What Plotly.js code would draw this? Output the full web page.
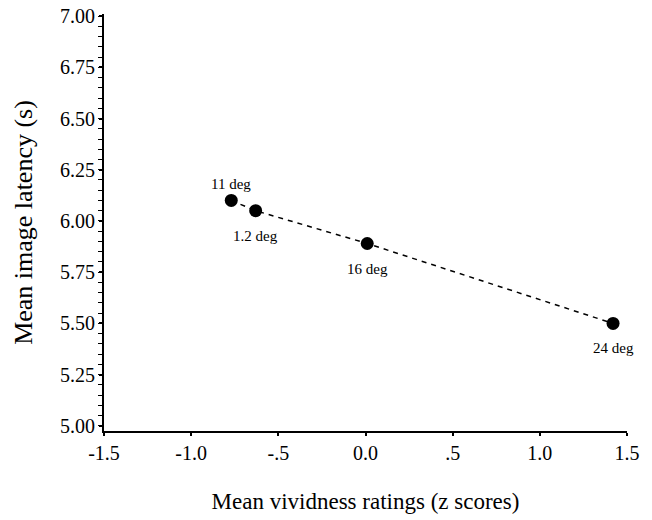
<!DOCTYPE html>
<html>
<head>
<meta charset="utf-8">
<script src="https://cdn.plot.ly/plotly-3.0.1.min.js"></script>
<style>
  html, body { margin: 0; padding: 0; background: #fff; }
  #chart { width: 652px; height: 520px; }
</style>
</head>
<body>
<div id="chart"></div>
<script>
// Data
const conditionLabels = ["11 deg", "1.2 deg", "16 deg", "24 deg"];
const vividnessZ = [-0.77, -0.63, 0.01, 1.42];
const imageLatency = [6.10, 6.05, 5.89, 5.50];

const xTickValues = [-1.5, -1.0, -0.5, 0.0, 0.5, 1.0, 1.5];
const xTickLabels = ["-1.5", "-1.0", "-.5", "0.0", ".5", "1.0", "1.5"];
const yTickValues = [5.00, 5.25, 5.50, 5.75, 6.00, 6.25, 6.50, 6.75, 7.00];
const yTickLabels = ["5.00", "5.25", "5.50", "5.75", "6.00", "6.25", "6.50", "6.75", "7.00"];

const FONT = "Liberation Serif";

const trace = {
  x: vividnessZ,
  y: imageLatency,
  type: "scatter",
  mode: "lines+markers",
  line: { color: "#000", width: 1.5, dash: "5px,5px" },
  marker: { color: "#000", size: 13 },
  hoverinfo: "x+y",
  showlegend: false
};

const annotations = conditionLabels.map((lab, i) => ({
  x: vividnessZ[i],
  y: imageLatency[i],
  xref: "x",
  yref: "y",
  text: lab,
  showarrow: false,
  yshift: i === 0 ? 16 : -25,
  font: { family: FONT, size: 15, color: "#000" }
}));

const layout = {
  width: 652,
  height: 520,
  margin: { l: 104, r: 25, t: 14, b: 89 },
  paper_bgcolor: "#fff",
  plot_bgcolor: "#fff",
  font: { family: FONT, color: "#000" },
  showlegend: false,
  xaxis: {
    range: [-1.5, 1.5],
    tickvals: xTickValues,
    ticktext: xTickLabels,
    ticks: "outside",
    ticklen: 3,
    tickwidth: 2,
    tickcolor: "#000",
    showline: true,
    linecolor: "#000",
    linewidth: 2,
    showgrid: false,
    zeroline: false,
    tickfont: { family: FONT, size: 20, color: "#000" },
    title: { text: "Mean vividness ratings (z scores)", font: { family: FONT, size: 23, color: "#000" }, standoff: 30 }
  },
  yaxis: {
    range: [4.975, 7.01],
    tickvals: yTickValues,
    ticktext: yTickLabels,
    ticks: "outside",
    ticklen: 3,
    tickwidth: 2,
    tickcolor: "#000",
    minor: { dtick: 0.05, tick0: 5, ticks: "outside", ticklen: 4, tickwidth: 1, tickcolor: "#000", showgrid: false },
    showline: true,
    linecolor: "#000",
    linewidth: 2,
    showgrid: false,
    zeroline: false,
    tickfont: { family: FONT, size: 20, color: "#000" },
    title: { text: "Mean image latency (s)", font: { family: FONT, size: 26, color: "#000" }, standoff: 20 }
  },
  annotations: annotations
};

Plotly.newPlot("chart", [trace], layout, { displayModeBar: false, staticPlot: true });
</script>
</body>
</html>
